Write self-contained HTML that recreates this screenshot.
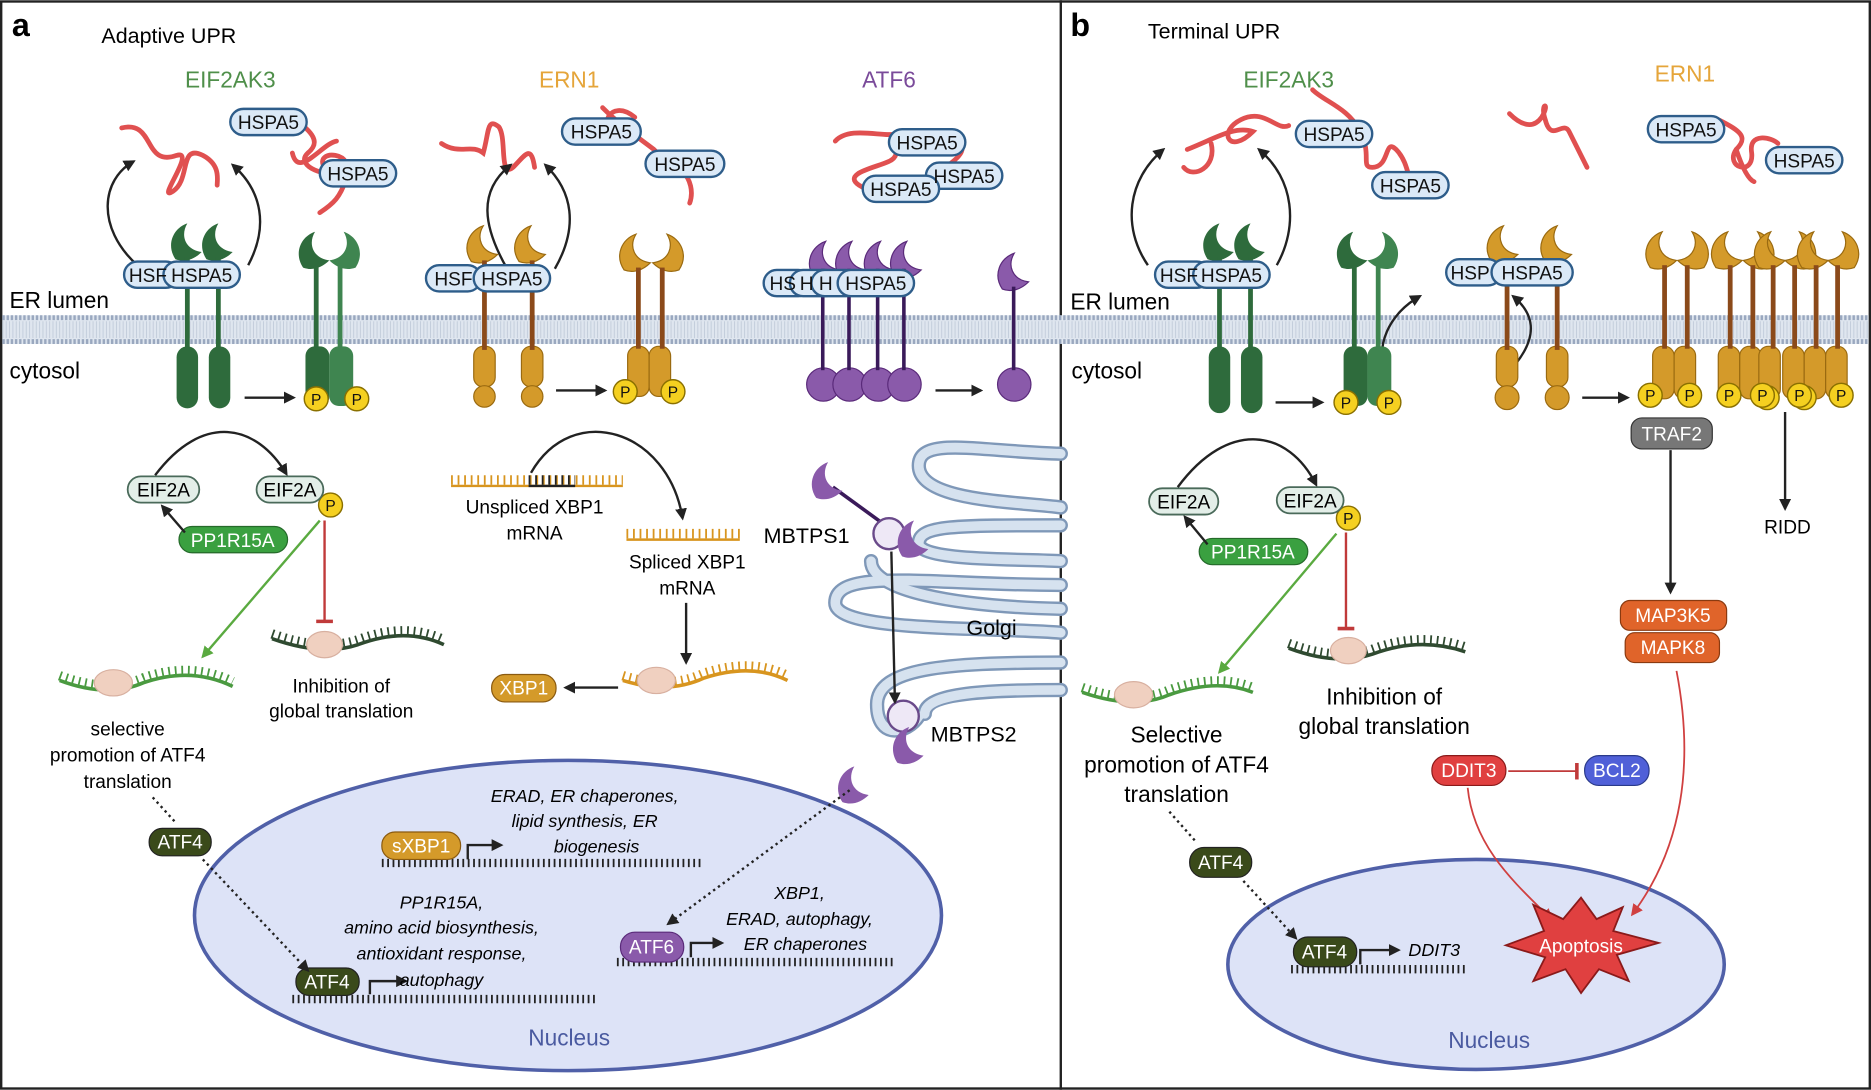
<!DOCTYPE html>
<html><head><meta charset="utf-8"><style>
html,body{margin:0;padding:0;background:#fff}
svg{display:block}
text{font-family:"Liberation Sans",sans-serif}
</style></head><body>
<svg width="1871" height="1090" viewBox="0 0 1568 913" xmlns="http://www.w3.org/2000/svg">
<defs>
<marker id="ah" markerWidth="10" markerHeight="10" refX="8" refY="5" orient="auto" markerUnits="userSpaceOnUse"><path d="M0,0 L10,5 L0,10 Z" fill="#222"/></marker>
<marker id="ag" markerWidth="10" markerHeight="10" refX="8" refY="5" orient="auto" markerUnits="userSpaceOnUse"><path d="M0,0 L10,5 L0,10 Z" fill="#5aaa40"/></marker>
<marker id="ar" markerWidth="10" markerHeight="10" refX="8" refY="5" orient="auto" markerUnits="userSpaceOnUse"><path d="M0,0 L10,5 L0,10 Z" fill="#d04040"/></marker>
<marker id="tb" markerWidth="4" markerHeight="14" refX="2" refY="7" orient="auto" markerUnits="userSpaceOnUse"><rect x="0" y="0" width="3" height="14" fill="#c03a3a"/></marker>
<path id="cres" d="M-8,14 C-16,2 -10,-12 2,-16 C-4,-6 0,6 14,8 C8,14 0,17 -8,14 Z"/>
</defs>

<rect x="1" y="1" width="1566" height="911" fill="none" stroke="#222" stroke-width="2"/>
<line x1="889" y1="0" x2="889" y2="913" stroke="#222" stroke-width="2"/>

<rect x="2" y="264" width="1564" height="24" fill="#dfe6ef"/>
<line x1="2" y1="266" x2="1566" y2="266" stroke="#9aa8bf" stroke-width="4" stroke-dasharray="2,1.5"/>
<line x1="2" y1="286" x2="1566" y2="286" stroke="#9aa8bf" stroke-width="4" stroke-dasharray="2,1.5"/>
<line x1="2" y1="276" x2="1566" y2="276" stroke="#c3cddb" stroke-width="14" stroke-dasharray="0.8,2"/>

<text x="10" y="30" font-size="27" font-weight="bold">a</text>
<text x="85" y="36" font-size="18">Adaptive UPR</text>
<text x="897" y="30" font-size="27" font-weight="bold">b</text>
<text x="962" y="32" font-size="18">Terminal UPR</text>
<g font-size="19" text-anchor="middle">
<text x="193" y="73" fill="#4f8f4a">EIF2AK3</text>
<text x="477" y="73" fill="#e5a53a">ERN1</text>
<text x="745" y="73" fill="#7a4a9a">ATF6</text>
<text x="1080" y="73" fill="#4f8f4a">EIF2AK3</text>
<text x="1412" y="68" fill="#e5a53a">ERN1</text>
</g>
<g font-size="19">
<text x="8" y="258">ER lumen</text><text x="8" y="317">cytosol</text>
<text x="897" y="259">ER lumen</text><text x="898" y="317">cytosol</text>
</g>

<g fill="none" stroke="#e05050" stroke-width="4" stroke-linecap="round">
<path d="M102,107 C130,100 120,140 148,130 C165,125 130,170 145,160 C160,150 150,120 170,130 C185,138 182,150 182,155"/>
<path d="M248,100 C260,110 270,118 258,128 C245,140 282,150 272,140 C262,125 300,125 290,150 C285,165 280,170 268,178 M245,128 C250,150 270,120 282,118"/>
<path d="M370,120 C385,130 395,120 405,128 C410,110 408,98 418,106 C425,115 418,150 430,140 C440,130 445,120 448,140"/>
<path d="M505,90 C520,105 535,115 548,125 C560,135 540,150 552,140 C565,130 585,150 578,170 M520,102 C500,112 510,80 532,98"/>
<path d="M700,118 C712,105 740,115 752,112 C770,108 800,110 805,120 C812,130 790,140 780,150 C770,160 740,168 720,155 C705,145 735,140 745,135 C760,128 740,115 760,120"/>
<path d="M995,125 C1020,115 1035,105 1050,110 C1030,130 1020,110 1040,100 C1060,90 1070,110 1080,105 M1015,120 C1020,140 1000,150 992,140"/>
<path d="M1100,75 C1110,85 1130,90 1140,110 C1150,130 1140,140 1150,140 C1165,140 1160,115 1170,125 C1180,135 1180,150 1185,160"/>
<path d="M1265,95 C1275,105 1285,108 1292,98 C1300,85 1290,85 1295,100 C1300,120 1310,100 1315,110 C1320,120 1325,130 1330,140"/>
<path d="M1440,100 C1460,110 1465,115 1455,125 C1445,140 1470,148 1468,128 C1465,110 1485,115 1490,120 M1455,125 C1460,140 1465,150 1470,152"/>
</g>

<g fill="none" stroke="#222" stroke-width="2">
<path d="M115,222 C80,190 85,150 112,135" marker-end="url(#ah)"/>
<path d="M208,222 C225,190 220,160 195,138" marker-end="url(#ah)"/>
<path d="M425,225 C405,190 400,160 428,138" marker-end="url(#ah)"/>
<path d="M465,225 C485,190 480,160 457,138" marker-end="url(#ah)"/>
<path d="M962,222 C940,190 945,150 975,125" marker-end="url(#ah)"/>
<path d="M1070,222 C1088,190 1085,150 1055,125" marker-end="url(#ah)"/>
<path d="M1163,318 C1150,290 1165,262 1190,248" marker-end="url(#ah)"/>
<path d="M1270,305 C1290,280 1285,262 1268,248" marker-end="url(#ah)"/>
</g>

<g fill="#2e6b3c">
<use href="#cres" x="155" y="203"/><use href="#cres" x="181" y="203"/>
<rect x="155" y="215" width="4" height="80"/><rect x="181" y="215" width="4" height="80"/>
<rect x="148" y="290" width="18" height="52" rx="9"/><rect x="175" y="290" width="18" height="52" rx="9"/>
<use href="#cres" x="1020" y="203"/><use href="#cres" x="1046" y="203"/>
<rect x="1020" y="215" width="4" height="80"/><rect x="1046" y="215" width="4" height="80"/>
<rect x="1013" y="290" width="18" height="56" rx="9"/><rect x="1040" y="290" width="18" height="56" rx="9"/>
</g>
<g>
<g fill="#2e6b3c"><use href="#cres" x="262" y="210"/><rect x="263" y="222" width="4" height="75"/><rect x="256" y="290" width="20" height="50" rx="8"/></g>
<g fill="#3f8550"><use href="#cres" transform="translate(290,210) scale(-1,1)"/><rect x="283" y="222" width="4" height="75"/><rect x="276" y="290" width="20" height="50" rx="8"/></g>
<g fill="#2e6b3c"><use href="#cres" x="1132" y="210"/><rect x="1133" y="222" width="4" height="75"/><rect x="1126" y="290" width="20" height="50" rx="8"/></g>
<g fill="#3f8550"><use href="#cres" transform="translate(1160,210) scale(-1,1)"/><rect x="1153" y="222" width="4" height="75"/><rect x="1146" y="290" width="20" height="50" rx="8"/></g>
</g>

<g fill="#d49a2a" stroke="#9a6a10" stroke-width="1">
<use href="#cres" x="403" y="205"/><use href="#cres" x="443" y="205"/>
<rect x="397" y="290" width="18" height="34" rx="8"/><circle cx="406" cy="332" r="9"/>
<rect x="437" y="290" width="18" height="34" rx="8"/><circle cx="446" cy="332" r="9"/>
<use href="#cres" x="1258" y="205"/><use href="#cres" x="1303" y="205"/>
<rect x="1254" y="290" width="18" height="34" rx="8"/><circle cx="1263" cy="333" r="10"/>
<rect x="1296" y="290" width="18" height="34" rx="8"/><circle cx="1305" cy="333" r="10"/>
<use href="#cres" x="531" y="212"/><use href="#cres" transform="translate(561,212) scale(-1,1)"/>
<rect x="526" y="290" width="18" height="42" rx="8"/><rect x="544" y="290" width="18" height="42" rx="8"/>
<use href="#cres" x="1391" y="210"/><use href="#cres" transform="translate(1420,210) scale(-1,1)"/>
<rect x="1385" y="290" width="18" height="44" rx="8"/><rect x="1403" y="290" width="18" height="44" rx="8"/>
<use href="#cres" x="1446" y="210"/><use href="#cres" transform="translate(1475,210) scale(-1,1)"/>
<use href="#cres" x="1482" y="210"/><use href="#cres" transform="translate(1510,210) scale(-1,1)"/>
<use href="#cres" x="1518" y="210"/><use href="#cres" transform="translate(1546,210) scale(-1,1)"/>
<rect x="1440" y="290" width="18" height="44" rx="8"/><rect x="1458" y="290" width="18" height="44" rx="8"/>
<rect x="1474" y="290" width="18" height="44" rx="8"/><rect x="1494" y="290" width="18" height="44" rx="8"/>
<rect x="1512" y="290" width="18" height="44" rx="8"/><rect x="1530" y="290" width="18" height="44" rx="8"/>
</g>
<g fill="#8b4a1a">
<rect x="404" y="218" width="4" height="75"/><rect x="444" y="218" width="4" height="75"/>
<rect x="1261" y="218" width="4" height="75"/><rect x="1303" y="218" width="4" height="75"/>
<rect x="533" y="224" width="4" height="68"/><rect x="553" y="224" width="4" height="68"/>
<rect x="1393" y="222" width="4" height="70"/><rect x="1412" y="222" width="4" height="70"/>
<rect x="1448" y="222" width="4" height="70"/><rect x="1467" y="222" width="4" height="70"/><rect x="1484" y="222" width="4" height="70"/>
<rect x="1502" y="222" width="4" height="70"/><rect x="1520" y="222" width="4" height="70"/><rect x="1538" y="222" width="4" height="70"/>
</g>

<g fill="#8a5aaa" stroke="#5a2a7a" stroke-width="1">
<circle cx="690" cy="322" r="14"/><circle cx="712" cy="322" r="14"/><circle cx="736" cy="322" r="14"/><circle cx="758" cy="322" r="14"/>
<circle cx="850" cy="322" r="14"/>
<use href="#cres" x="690" y="218"/><use href="#cres" x="712" y="218"/><use href="#cres" x="736" y="218"/><use href="#cres" x="758" y="218"/>
<use href="#cres" x="848" y="228"/>
</g>
<g fill="#3a1a5a"><rect x="688" y="225" width="3" height="85"/><rect x="710" y="225" width="3" height="85"/><rect x="734" y="225" width="3" height="85"/><rect x="756" y="225" width="3" height="85"/><rect x="848" y="240" width="3" height="70"/></g>

<g fill="#dbe9f7" stroke="#2e5d8a" stroke-width="2">
<rect x="104" y="219" width="46" height="22" rx="11"/><rect x="137" y="219" width="64" height="22" rx="11"/>
<rect x="193" y="91" width="64" height="22" rx="11"/><rect x="268" y="134" width="64" height="22" rx="11"/>
<rect x="357" y="222" width="46" height="22" rx="11"/><rect x="397" y="222" width="64" height="22" rx="11"/>
<rect x="471" y="99" width="66" height="22" rx="11"/><rect x="541" y="126" width="66" height="22" rx="11"/>
<rect x="640" y="226" width="40" height="22" rx="11"/><rect x="662" y="226" width="40" height="22" rx="11"/><rect x="680" y="226" width="40" height="22" rx="11"/><rect x="702" y="226" width="64" height="22" rx="11"/>
<rect x="745" y="108" width="64" height="22" rx="11"/><rect x="776" y="136" width="64" height="22" rx="11"/><rect x="723" y="147" width="64" height="22" rx="11"/>
<rect x="968" y="219" width="46" height="22" rx="11"/><rect x="1000" y="219" width="64" height="22" rx="11"/>
<rect x="1086" y="101" width="64" height="22" rx="11"/><rect x="1150" y="144" width="64" height="22" rx="11"/>
<rect x="1212" y="217" width="46" height="22" rx="11"/><rect x="1250" y="217" width="68" height="22" rx="11"/>
<rect x="1381" y="97" width="64" height="22" rx="11"/><rect x="1480" y="123" width="64" height="22" rx="11"/>
</g>
<g font-size="16" fill="#111" text-anchor="middle">
<text x="124" y="236">HSF</text><text x="169" y="236">HSPA5</text>
<text x="225" y="108">HSPA5</text><text x="300" y="151">HSPA5</text>
<text x="380" y="239">HSF</text><text x="429" y="239">HSPA5</text>
<text x="504" y="116">HSPA5</text><text x="574" y="143">HSPA5</text>
<text x="656" y="243">HS</text><text x="676" y="243">H</text><text x="692" y="243">H</text><text x="734" y="243">HSPA5</text>
<text x="777" y="125">HSPA5</text><text x="808" y="153">HSPA5</text><text x="755" y="164">HSPA5</text>
<text x="988" y="236">HSF</text><text x="1032" y="236">HSPA5</text>
<text x="1118" y="118">HSPA5</text><text x="1182" y="161">HSPA5</text>
<text x="1232" y="234">HSP</text><text x="1284" y="234">HSPA5</text>
<text x="1413" y="114">HSPA5</text><text x="1512" y="140">HSPA5</text>
</g>

<g stroke="#222" stroke-width="2" marker-end="url(#ah)">
<line x1="205" y1="333" x2="246" y2="333"/><line x1="466" y1="327" x2="507" y2="327"/>
<line x1="784" y1="327" x2="822" y2="327"/><line x1="1069" y1="337" x2="1108" y2="337"/>
<line x1="1326" y1="333" x2="1364" y2="333"/>
</g>

<g fill="#f5d020" stroke="#8a7000" stroke-width="1.2">
<circle cx="265" cy="334" r="10"/><circle cx="299" cy="334" r="10"/>
<circle cx="524" cy="328" r="10"/><circle cx="564" cy="328" r="10"/>
<circle cx="1128" cy="337" r="10"/><circle cx="1164" cy="337" r="10"/>
<circle cx="1383" cy="331" r="10"/><circle cx="1416" cy="331" r="10"/>
<circle cx="1449" cy="331" r="10"/><circle cx="1481" cy="333" r="10"/><circle cx="1477" cy="331" r="10"/>
<circle cx="1512" cy="333" r="10"/><circle cx="1508" cy="331" r="10"/><circle cx="1543" cy="331" r="10"/>
<circle cx="277" cy="423" r="10"/><circle cx="1130" cy="434" r="10"/>
</g>
<g font-size="13" text-anchor="middle" fill="#111">
<text x="265" y="339">P</text><text x="299" y="339">P</text><text x="524" y="333">P</text><text x="564" y="333">P</text>
<text x="1128" y="342">P</text><text x="1164" y="342">P</text><text x="1383" y="336">P</text><text x="1416" y="336">P</text>
<text x="1449" y="336">P</text><text x="1477" y="336">P</text><text x="1508" y="336">P</text><text x="1543" y="336">P</text>
<text x="277" y="428">P</text><text x="1130" y="439">P</text>
</g>

<g fill="#e3eee8" stroke="#4a6a5a" stroke-width="1.5">
<rect x="107" y="399" width="60" height="22" rx="11"/><rect x="215" y="399" width="56" height="22" rx="11"/>
<rect x="963" y="409" width="58" height="22" rx="11"/><rect x="1070" y="408" width="56" height="22" rx="11"/>
</g>
<g font-size="16" text-anchor="middle"><text x="137" y="416">EIF2A</text><text x="243" y="416">EIF2A</text><text x="992" y="426">EIF2A</text><text x="1098" y="425">EIF2A</text></g>
<rect x="150" y="441" width="91" height="22" rx="11" fill="#3aa040" stroke="#256a2a"/>
<rect x="1005" y="451" width="91" height="22" rx="11" fill="#3aa040" stroke="#256a2a"/>
<g font-size="16" text-anchor="middle" fill="#fff"><text x="195" y="458">PP1R15A</text><text x="1050" y="468">PP1R15A</text></g>
<g fill="none" stroke="#222" stroke-width="2" marker-end="url(#ah)">
<path d="M130,398 C170,345 215,355 240,397"/><line x1="155" y1="446" x2="136" y2="424"/>
<path d="M987,408 C1030,350 1080,360 1103,406"/><line x1="1012" y1="456" x2="993" y2="433"/>
</g>
<line x1="268" y1="436" x2="170" y2="550" stroke="#5aaa40" stroke-width="2" marker-end="url(#ag)"/>
<line x1="272" y1="436" x2="272" y2="521" stroke="#c03a3a" stroke-width="2" marker-end="url(#tb)"/>
<line x1="1120" y1="447" x2="1022" y2="563" stroke="#5aaa40" stroke-width="2" marker-end="url(#ag)"/>
<line x1="1128" y1="446" x2="1128" y2="527" stroke="#c03a3a" stroke-width="2" marker-end="url(#tb)"/>

<g fill="none">
<path d="M50,570 Q90,585 120,572 Q160,558 195,575" stroke="#4a9a40" stroke-width="3"/>
<path d="M50,566 Q90,581 120,568 Q160,554 195,571" stroke="#4a9a40" stroke-width="8" stroke-dasharray="1.5,4"/>
<path d="M228,535 Q270,550 300,540 Q340,525 372,540" stroke="#2f4a30" stroke-width="3"/>
<path d="M228,531 Q270,546 300,536 Q340,521 372,536" stroke="#2f4a30" stroke-width="8" stroke-dasharray="1.5,4"/>
<path d="M907,580 Q950,595 980,582 Q1020,568 1050,580" stroke="#4a9a40" stroke-width="3"/>
<path d="M907,576 Q950,591 980,578 Q1020,564 1050,576" stroke="#4a9a40" stroke-width="8" stroke-dasharray="1.5,4"/>
<path d="M1080,543 Q1120,558 1150,548 Q1190,533 1228,546" stroke="#2f4a30" stroke-width="3"/>
<path d="M1080,539 Q1120,554 1150,544 Q1190,529 1228,542" stroke="#2f4a30" stroke-width="8" stroke-dasharray="1.5,4"/>
<path d="M522,570 Q560,582 590,568 Q630,555 660,570" stroke="#d8951f" stroke-width="3"/>
<path d="M522,566 Q560,578 590,564 Q630,551 660,566" stroke="#d8951f" stroke-width="8" stroke-dasharray="1.5,4"/>
</g>
<g fill="#f0d0c0" stroke="#d8b0a0"><ellipse cx="95" cy="572" rx="16" ry="11"/><ellipse cx="272" cy="540" rx="15" ry="11"/><ellipse cx="950" cy="582" rx="16" ry="11"/><ellipse cx="1130" cy="545" rx="15" ry="11"/><ellipse cx="550" cy="570" rx="16" ry="11"/></g>
<g font-size="16" text-anchor="middle">
<text x="107" y="616">selective</text><text x="107" y="638">promotion of ATF4</text><text x="107" y="660">translation</text>
<text x="286" y="580">Inhibition of</text><text x="286" y="601">global translation</text>
</g>
<g font-size="19" text-anchor="middle">
<text x="986" y="622">Selective</text><text x="986" y="647">promotion of ATF4</text><text x="986" y="672">translation</text>
<text x="1160" y="590">Inhibition of</text><text x="1160" y="615">global translation</text>
</g>

<line x1="378" y1="407" x2="522" y2="407" stroke="#d8951f" stroke-width="2"/>
<line x1="378" y1="402" x2="522" y2="402" stroke="#d8951f" stroke-width="8" stroke-dasharray="1.5,4"/>
<line x1="443" y1="407" x2="482" y2="407" stroke="#222" stroke-width="2"/>
<line x1="443" y1="402" x2="482" y2="402" stroke="#222" stroke-width="8" stroke-dasharray="1.5,4"/>
<line x1="525" y1="452" x2="620" y2="452" stroke="#d8951f" stroke-width="2"/>
<line x1="525" y1="447" x2="620" y2="447" stroke="#d8951f" stroke-width="8" stroke-dasharray="1.5,4"/>
<path d="M445,396 C480,335 560,360 572,434" fill="none" stroke="#222" stroke-width="2" marker-end="url(#ah)"/>
<line x1="575" y1="505" x2="575" y2="555" stroke="#222" stroke-width="2" marker-end="url(#ah)"/>
<line x1="518" y1="576" x2="474" y2="576" stroke="#222" stroke-width="2" marker-end="url(#ah)"/>
<g font-size="16" text-anchor="middle"><text x="448" y="430">Unspliced XBP1</text><text x="448" y="452">mRNA</text><text x="576" y="476">Spliced XBP1</text><text x="576" y="498">mRNA</text></g>
<rect x="412" y="565" width="54" height="23" rx="11" fill="#d49a2a" stroke="#8a5a10"/>
<text x="439" y="582" font-size="16" fill="#fff" text-anchor="middle">XBP1</text>

<g fill="none" stroke-linecap="round">
<g stroke="#7f98b8" stroke-width="12">
<path d="M889,380 C820,378 770,365 770,390 C770,420 850,420 889,425"/>
<path d="M889,440 C800,440 770,440 770,455 C770,470 850,468 889,470"/>
<path d="M889,490 C780,490 700,475 700,505 C700,530 830,525 889,530"/>
<path d="M889,510 C800,508 730,495 730,470"/>
<path d="M889,555 C790,555 735,560 735,590 C735,620 760,615 770,600"/>
<path d="M889,578 C830,578 775,580 775,598"/>
</g>
<g stroke="#d6e2ef" stroke-width="8">
<path d="M889,380 C820,378 770,365 770,390 C770,420 850,420 889,425"/>
<path d="M889,440 C800,440 770,440 770,455 C770,470 850,468 889,470"/>
<path d="M889,490 C780,490 700,475 700,505 C700,530 830,525 889,530"/>
<path d="M889,510 C800,508 730,495 730,470"/>
<path d="M889,555 C790,555 735,560 735,590 C735,620 760,615 770,600"/>
<path d="M889,578 C830,578 775,580 775,598"/>
</g>
</g>
<line x1="698" y1="408" x2="742" y2="440" stroke="#3a1a5a" stroke-width="3"/>
<use href="#cres" x="692" y="403" fill="#8a5aaa"/>
<circle cx="745" cy="447" r="13" fill="#eee8f6" stroke="#6a4a8a" stroke-width="2"/>
<use href="#cres" x="764" y="452" fill="#8a5aaa"/>
<circle cx="757" cy="600" r="13" fill="#eee8f6" stroke="#6a4a8a" stroke-width="2"/>
<use href="#cres" x="760" y="625" fill="#8a5aaa"/>
<use href="#cres" x="714" y="658" fill="#8a5aaa"/>
<line x1="747" y1="462" x2="750" y2="588" stroke="#222" stroke-width="2" marker-end="url(#ah)"/>
<text x="640" y="455" font-size="18">MBTPS1</text>
<text x="810" y="532" font-size="18">Golgi</text>
<text x="780" y="621" font-size="18">MBTPS2</text>

<ellipse cx="476" cy="767" rx="313" ry="130" fill="#dde3f7" stroke="#5060a8" stroke-width="3"/>
<ellipse cx="1237" cy="808" rx="208" ry="88" fill="#dde3f7" stroke="#5060a8" stroke-width="3"/>
<text x="477" y="876" font-size="19" fill="#4a5aa0" text-anchor="middle">Nucleus</text>
<text x="1248" y="878" font-size="19" fill="#4a5aa0" text-anchor="middle">Nucleus</text>

<g stroke="#222">
<line x1="320" y1="723" x2="590" y2="723" stroke-width="7" stroke-dasharray="1.5,3"/>
<line x1="245" y1="837" x2="500" y2="837" stroke-width="7" stroke-dasharray="1.5,3"/>
<line x1="517" y1="806" x2="750" y2="806" stroke-width="7" stroke-dasharray="1.5,3"/>
<line x1="1082" y1="812" x2="1230" y2="812" stroke-width="7" stroke-dasharray="1.5,3"/>
</g>
<g fill="none" stroke="#222" stroke-width="2" marker-end="url(#ah)">
<path d="M392,720 V708 H420"/><path d="M310,833 V822 H340"/><path d="M579,802 V790 H605"/><path d="M1140,808 V796 H1172"/>
</g>
<g font-size="15" font-style="italic" text-anchor="middle">
<text x="490" y="672">ERAD, ER chaperones,</text><text x="490" y="693">lipid synthesis, ER</text><text x="500" y="714">biogenesis</text>
<text x="370" y="761">PP1R15A,</text><text x="370" y="782">amino acid biosynthesis,</text><text x="370" y="804">antioxidant response,</text><text x="370" y="826">autophagy</text>
<text x="670" y="753">XBP1,</text><text x="670" y="775">ERAD, autophagy,</text><text x="675" y="796">ER chaperones</text>
<text x="1202" y="801">DDIT3</text>
</g>
<rect x="320" y="697" width="66" height="23" rx="11" fill="#d49a2a" stroke="#8a5a10"/>
<rect x="248" y="811" width="53" height="23" rx="11" fill="#3a4a1a" stroke="#222"/>
<rect x="520" y="781" width="53" height="25" rx="12" fill="#8a5aaa" stroke="#5a2a7a"/>
<rect x="125" y="694" width="52" height="23" rx="11" fill="#3a4a1a" stroke="#222"/>
<rect x="997" y="710" width="52" height="25" rx="12" fill="#3a4a1a" stroke="#222"/>
<rect x="1084" y="785" width="53" height="25" rx="12" fill="#3a4a1a" stroke="#222"/>
<g font-size="16" fill="#fff" text-anchor="middle">
<text x="353" y="714">sXBP1</text><text x="274" y="828">ATF4</text><text x="546" y="799">ATF6</text>
<text x="151" y="711">ATF4</text><text x="1023" y="728">ATF4</text><text x="1110" y="803">ATF4</text>
</g>
<g fill="none" stroke="#222" stroke-width="2" stroke-dasharray="2,3">
<line x1="128" y1="668" x2="148" y2="690"/><line x1="170" y1="720" x2="258" y2="813" marker-end="url(#ah)"/>
<line x1="712" y1="662" x2="560" y2="774" marker-end="url(#ah)"/>
<line x1="980" y1="680" x2="1003" y2="706"/><line x1="1042" y1="738" x2="1086" y2="786" marker-end="url(#ah)"/>
</g>

<rect x="1367" y="350" width="68" height="26" rx="9" fill="#777" stroke="#333"/>
<text x="1401" y="369" font-size="16" fill="#fff" text-anchor="middle">TRAF2</text>
<line x1="1400" y1="377" x2="1400" y2="496" stroke="#222" stroke-width="2" marker-end="url(#ah)"/>
<line x1="1496" y1="345" x2="1496" y2="426" stroke="#222" stroke-width="2" marker-end="url(#ah)"/>
<text x="1498" y="447" font-size="16" text-anchor="middle">RIDD</text>
<rect x="1358" y="503" width="89" height="25" rx="8" fill="#e0642a" stroke="#8a3a10"/>
<rect x="1362" y="530" width="79" height="25" rx="8" fill="#e0642a" stroke="#8a3a10"/>
<g font-size="16" fill="#fff" text-anchor="middle"><text x="1402" y="521">MAP3K5</text><text x="1402" y="548">MAPK8</text></g>
<path d="M1405,562 C1420,640 1410,710 1368,766" fill="none" stroke="#d04040" stroke-width="1.5" marker-end="url(#ar)"/>
<rect x="1200" y="633" width="62" height="25" rx="12" fill="#e04040" stroke="#8a1a1a"/>
<rect x="1328" y="633" width="54" height="25" rx="12" fill="#5060d8" stroke="#2a3a8a"/>
<g font-size="16" fill="#fff" text-anchor="middle"><text x="1231" y="651">DDIT3</text><text x="1355" y="651">BCL2</text></g>
<line x1="1264" y1="646" x2="1322" y2="646" stroke="#c03a3a" stroke-width="1.5" marker-end="url(#tb)"/>
<path d="M1230,660 C1235,710 1270,740 1300,770" fill="none" stroke="#d04040" stroke-width="1.5" marker-end="url(#ar)"/>
<polygon points="1325,752 1338,770 1360,760 1352,780 1390,790 1355,800 1365,822 1340,812 1325,832 1312,812 1285,822 1295,802 1262,792 1294,780 1285,758 1310,770" fill="#e04040" stroke="#8a1a1a" stroke-width="1.5"/>
<text x="1325" y="798" font-size="16" fill="#fff" text-anchor="middle">Apoptosis</text>
</svg>
</body></html>
